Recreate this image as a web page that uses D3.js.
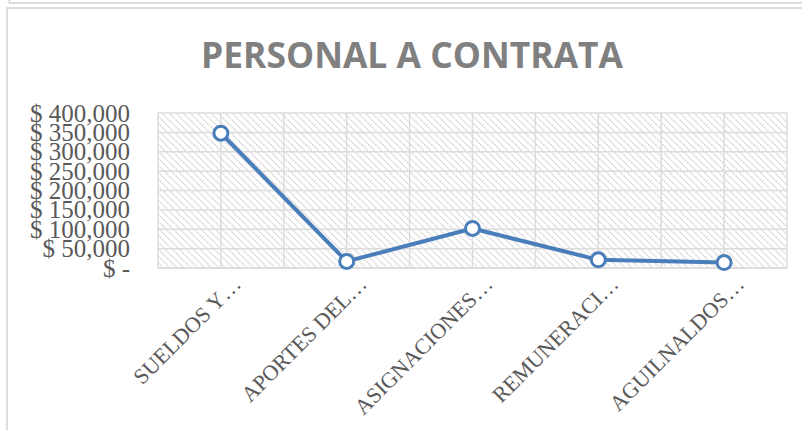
<!DOCTYPE html>
<html>
<head>
<meta charset="utf-8">
<script src="https://cdn.jsdelivr.net/npm/d3@7"></script>
<style>
  body { margin: 0; background: #fff; }
</style>
</head>
<body>
<div id="chart"></div>
<script>
const width = 802;
const height = 430;

const categories = ["SUELDOS Y…", "APORTES DEL…", "ASIGNACIONES…", "REMUNERACI…", "AGUILNALDOS…"];
const values = [348000, 17000, 102000, 21000, 14000];
const yTicks = [0, 50000, 100000, 150000, 200000, 250000, 300000, 350000, 400000];

const plot = { left: 158, right: 787, top: 113, bottom: 268 };
const lineColor = "#4a7ebb";
const gridColor = "#dcdcdc";

const svg = d3.select("#chart")
  .append("svg")
  .attr("width", width)
  .attr("height", height);

// hatch pattern for the plot area
const defs = svg.append("defs");
const pat = defs.append("pattern")
  .attr("id", "hatch")
  .attr("patternUnits", "userSpaceOnUse")
  .attr("width", 7)
  .attr("height", 7);
pat.append("path")
  .attr("d", "M-1,-1 L8,8 M-1,6 L1,8 M6,-1 L8,1")
  .attr("stroke", "#d6d6d6")
  .attr("stroke-width", 1.6)
  .attr("stroke-dasharray", "1.5 1");

// frames of the sheet
svg.append("path")
  .attr("d", "M9.5,0 L9.5,3 L802,3")
  .attr("fill", "none")
  .attr("stroke", gridColor)
  .attr("stroke-width", 2);

svg.append("rect")
  .attr("x", 7)
  .attr("y", 8)
  .attr("width", width)
  .attr("height", height)
  .attr("fill", "none")
  .attr("stroke", gridColor)
  .attr("stroke-width", 2);

const x = d3.scaleBand()
  .domain(categories)
  .range([plot.left, plot.right])
  .padding(0);

const y = d3.scaleLinear()
  .domain([0, 400000])
  .range([plot.bottom, plot.top]);

svg.append("rect")
  .attr("x", plot.left)
  .attr("y", plot.top)
  .attr("width", plot.right - plot.left)
  .attr("height", plot.bottom - plot.top)
  .attr("fill", "url(#hatch)");

// horizontal gridlines
svg.append("g")
  .selectAll("line")
  .data(yTicks)
  .enter()
  .append("line")
  .attr("x1", plot.left)
  .attr("x2", plot.right)
  .attr("y1", d => y(d))
  .attr("y2", d => y(d))
  .attr("stroke", gridColor)
  .attr("stroke-width", d => d === 0 ? 2 : 1.5);

// vertical gridlines, at band edges and centres
const vLines = [];
categories.forEach(c => {
  vLines.push(x(c));
  vLines.push(x(c) + x.bandwidth() / 2);
});
vLines.push(plot.right);

svg.append("g")
  .selectAll("line")
  .data(vLines)
  .enter()
  .append("line")
  .attr("x1", d => d)
  .attr("x2", d => d)
  .attr("y1", plot.top)
  .attr("y2", plot.bottom)
  .attr("stroke", gridColor)
  .attr("stroke-width", 1.5);

// y axis labels
const fmt = d3.format(",");
svg.append("g")
  .selectAll("text")
  .data(yTicks)
  .enter()
  .append("text")
  .attr("x", 130)
  .attr("y", d => y(d))
  .attr("dy", "0.34em")
  .attr("text-anchor", "end")
  .style("font-family", "'Liberation Serif', serif")
  .style("font-size", "25px")
  .attr("fill", "#595959")
  .text(d => d === 0 ? "$ -" : "$ " + fmt(d));

// x axis labels, rotated
svg.append("g")
  .selectAll("text")
  .data(categories)
  .enter()
  .append("text")
  .attr("transform", d => `translate(${x(d) + x.bandwidth() / 2 + 16}, 280) rotate(-45)`)
  .attr("text-anchor", "end")
  .attr("dy", "0.35em")
  .style("font-family", "'Liberation Serif', serif")
  .style("font-size", "22px")
  .attr("fill", "#595959")
  .text(d => d);

// line
const points = categories.map((c, i) => ({ c: c, v: values[i] }));
const line = d3.line()
  .x(d => x(d.c) + x.bandwidth() / 2)
  .y(d => y(d.v));

svg.append("path")
  .datum(points)
  .attr("d", line)
  .attr("fill", "none")
  .attr("stroke", lineColor)
  .attr("stroke-width", 4)
  .attr("stroke-linejoin", "round");

svg.append("g")
  .selectAll("circle")
  .data(points)
  .enter()
  .append("circle")
  .attr("cx", d => x(d.c) + x.bandwidth() / 2)
  .attr("cy", d => y(d.v))
  .attr("r", 7)
  .attr("fill", "#fff")
  .attr("stroke", lineColor)
  .attr("stroke-width", 3);

// title
svg.append("text")
  .attr("x", 412)
  .attr("y", 68)
  .attr("text-anchor", "middle")
  .attr("textLength", 422)
  .attr("lengthAdjust", "spacingAndGlyphs")
  .style("font-family", "'Open Sans', sans-serif")
  .style("font-weight", "bold")
  .style("font-size", "35px")
  .attr("fill", "#808080")
  .text("PERSONAL A CONTRATA");
</script>
</body>
</html>
